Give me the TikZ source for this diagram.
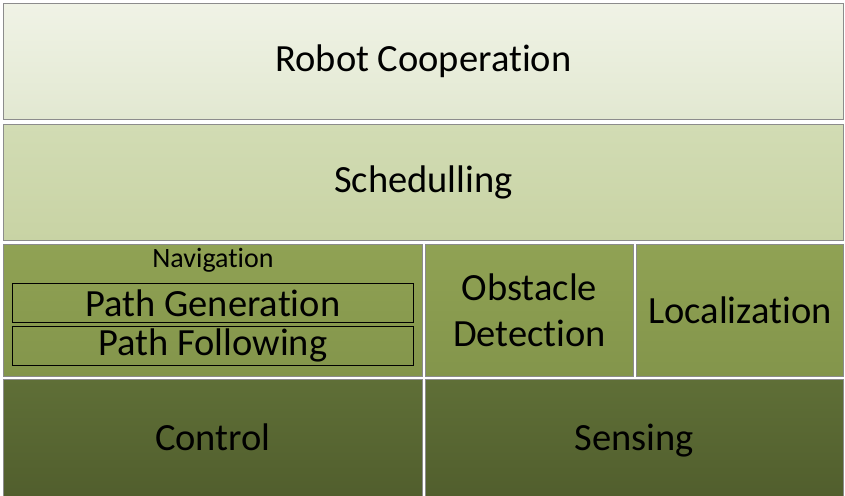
\documentclass[tikz,border=0pt]{standalone}
\usepackage{fontspec}
\setmainfont{Carlito}[Ligatures=NoCommon]
\tikzset{
  layer/.style={draw=gray!90, line width=0.8pt, rectangle, anchor=north west, inner sep=0pt, align=center, font=\fontsize{38.5}{45.5}\selectfont},
  toplayer/.style={layer, top color=toptop, bottom color=topbot},
  midlayer/.style={layer, top color=midtop, bottom color=midbot},
  applayer/.style={layer, top color=apptop, bottom color=appbot},
  lowlayer/.style={layer, top color=lowtop, bottom color=lowbot, text depth=0.3em},
  subbox/.style={draw=black, line width=0.8pt, rectangle, anchor=north west, inner sep=0pt, font=\fontsize{38.5}{45.5}\selectfont}
}
\definecolor{toptop}{HTML}{F0F3E6}
\definecolor{topbot}{HTML}{E2E8D1}
\definecolor{midtop}{HTML}{D2DCB4}
\definecolor{midbot}{HTML}{C8D3A4}
\definecolor{apptop}{HTML}{90A254}
\definecolor{appbot}{HTML}{83954B}
\definecolor{lowtop}{HTML}{5F6F37}
\definecolor{lowbot}{HTML}{515E2D}
\begin{document}
\begin{tikzpicture}[x=1pt, y=-1pt]
  \useasboundingbox (0,0) rectangle (845,495);
  \fill[white] (0,0) rectangle (845,495);
  \node[toplayer, minimum width=840pt, minimum height=116pt] (coop) at (3,3) {Robot Cooperation};
  \node[midlayer, minimum width=840pt, minimum height=116pt] (sched) at (3,124) {Schedulling};
  \node[applayer, minimum width=419pt, minimum height=132pt] (nav) at (3,244) {};
  \node[font=\fontsize{28}{32}\selectfont] (navlabel) at (213,260) {Navigation};
  \node[subbox, minimum width=401pt, minimum height=39pt] (pathgen) at (12,283) {Path Generation};
  \node[subbox, minimum width=401pt, minimum height=39pt] (pathfol) at (12,326) {Path Following};
  \node[applayer, minimum width=208pt, minimum height=132pt] (obst) at (425,244) {Obstacle\\Detection};
  \node[applayer, minimum width=207pt, minimum height=132pt] (local) at (636,244) {Localization};
  \node[lowlayer, minimum width=419pt, minimum height=118pt] (ctrl) at (3,379) {Control};
  \node[lowlayer, minimum width=418pt, minimum height=118pt] (sens) at (425,379) {Sensing};
\end{tikzpicture}
\end{document}
